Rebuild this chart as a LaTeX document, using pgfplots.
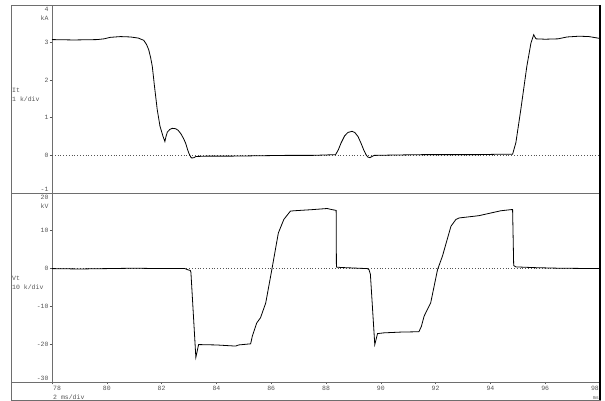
\documentclass[border=0pt]{standalone}
\usepackage{pgfplots}
\pgfplotsset{compat=1.18}
\usepackage{fontspec}
\setmainfont{Liberation Mono}
\definecolor{frm}{RGB}{110,110,110}
\definecolor{txt}{RGB}{85,85,85}
\begin{document}
\begin{tikzpicture}
\path[use as bounding box] (0pt,0pt) rectangle (605pt,401pt);
\pgfplotsset{
  every axis/.append style={
    scale only axis, width=548pt, anchor=south west,
    xmin=78, xmax=98,
    axis line style={frm, line width=0.9pt},
    tick style={txt, line width=0.6pt},
    major tick length=2.5pt, tick align=outside,
    ytick pos=left,
    tick label style={font=\fontsize{6.5}{7}\selectfont, text=txt},
    yticklabel style={inner sep=0.8pt},
    xticklabel style={inner sep=1pt},
    /pgf/number format/assume math mode=true,
    clip=false,
  }
}
% Upper panel: It
\begin{axis}[at={(52pt,208pt)}, height=188pt,
  ymin=-1, ymax=4, ytick={-1,0,1,2,3,4}, yticklabels={,0,1,2,3,},
  xtick=\empty]
\addplot[txt, dotted, line width=0.8pt] coordinates {(78,0) (98,0)};
\addplot[black, line width=0.8pt] coordinates {
(78.00,3.08) (78.8,3.07) (79.65,3.08) (79.9,3.10) (80.13,3.14) (80.5,3.16)
(80.86,3.15) (81.15,3.12) (81.35,3.06) (81.45,2.95) (81.53,2.81) (81.60,2.60)
(81.66,2.37) (81.74,1.84) (81.84,1.22) (81.94,0.78) (82.05,0.51) (82.12,0.37)
(82.16,0.50) (82.21,0.62) (82.30,0.69) (82.39,0.72) (82.51,0.71) (82.60,0.67)
(82.70,0.58) (82.80,0.45) (82.88,0.32) (82.95,0.15) (83.00,0.05) (83.06,-0.04)
(83.10,-0.07) (83.18,-0.06) (83.25,-0.03) (83.6,-0.02) (84.5,-0.02) (85.5,-0.01)
(86.5,0.00) (87.5,0.00) (88.35,0.02) (88.45,0.15) (88.55,0.33) (88.68,0.52)
(88.80,0.61) (88.95,0.64) (89.05,0.61) (89.17,0.50) (89.28,0.32) (89.38,0.14)
(89.46,0.02) (89.52,-0.04) (89.60,-0.06) (89.68,-0.03) (89.76,0.00) (90.5,0.01)
(91.5,0.02) (92.5,0.02) (93.5,0.02) (94.3,0.03) (94.81,0.03) (94.93,0.34)
(95.11,1.22) (95.33,2.37) (95.48,2.99) (95.58,3.21) (95.66,3.10) (96.0,3.09)
(96.47,3.10) (96.8,3.15) (97.24,3.17) (97.6,3.16) (98.0,3.11)};
\node[anchor=north east, inner sep=0.8pt, text=txt, font=\fontsize{6.5}{9}\selectfont, align=right]
  at ([xshift=-2.5pt,yshift=-1pt]axis cs:78,4) {4\\kA};
\node[anchor=south east, inner sep=0.8pt, text=txt, font=\fontsize{6.5}{7}\selectfont]
  at ([xshift=-2.5pt]axis cs:78,-1) {-1};
\end{axis}
% Lower panel: Vt
\begin{axis}[at={(52pt,19pt)}, height=189pt,
  ymin=-30, ymax=20, ytick={-30,-20,-10,0,10,20}, yticklabels={,-20,-10,0,10,},
  xtick={78,80,...,98}, xticklabels={,80,82,84,86,88,90,92,94,96,},
  xtick pos=bottom]
\addplot[txt, dotted, line width=0.8pt] coordinates {(78,0) (98,0)};
\addplot[black, line width=0.8pt] coordinates {
(78.00,0.0) (79.0,-0.1) (80.0,0.0) (81.0,0.1) (82.0,0.0) (82.85,0.0)
(82.95,-0.3) (83.05,-0.5) (83.07,-1.0) (83.25,-23.5) (83.35,-20.1) (84.0,-20.2)
(84.70,-20.5) (84.81,-20.2) (85.25,-19.9) (85.31,-17.9) (85.47,-14.4) (85.61,-13.0)
(85.80,-9.1) (86.03,0.0) (86.26,9.4) (86.46,13.0) (86.70,15.2) (86.83,15.3)
(87.5,15.6) (88.04,15.9) (88.22,15.6) (88.37,15.4) (88.38,0.4) (88.53,0.3)
(89.51,0.0) (89.57,-0.3) (89.62,-1.5) (89.78,-20.1) (89.88,-17.2) (90.11,-17.0)
(90.72,-16.8) (91.39,-16.7) (91.48,-15.3) (91.58,-12.6) (91.70,-10.8) (91.82,-9.1)
(92.07,-0.3) (92.25,3.3) (92.56,11.2) (92.74,13.0) (92.86,13.4) (93.58,14.0)
(94.01,14.7) (94.38,15.3) (94.75,15.6) (94.81,15.6) (94.85,0.8) (94.93,0.45)
(95.60,0.26) (96.5,0.1) (98.0,0.0)};
\node[anchor=north east, inner sep=0.8pt, text=txt, font=\fontsize{6.5}{9.5}\selectfont, align=right]
  at ([xshift=-2.5pt,yshift=-1pt]axis cs:78,20) {20\\kV};
\node[anchor=south east, inner sep=0.8pt, text=txt, font=\fontsize{6.5}{7}\selectfont]
  at ([xshift=-2.5pt]axis cs:78,-30) {-30};
\node[anchor=north west, inner sep=1pt, text=txt, font=\fontsize{6.5}{9}\selectfont, align=left]
  at ([yshift=-2.5pt]axis cs:78,-30) {78\\2 ms/div};
\node[anchor=north east, inner sep=1pt, text=txt, font=\fontsize{6.5}{9}\selectfont, align=right]
  at ([yshift=-2.5pt]axis cs:98,-30) {98\\{\fontsize{5}{6}\selectfont ms}};
\end{axis}
% frame
\draw[frm, line width=0.9pt] (11pt,1pt) rectangle (600pt,396pt);
\draw[frm, line width=0.9pt] (11pt,208pt) -- (600pt,208pt);
\draw[frm, line width=0.9pt] (11pt,19pt) -- (600pt,19pt);
\draw[black, line width=1.6pt] (600pt,1pt) -- (600pt,396pt);
% channel labels
\node[anchor=west, align=left, text=txt, font=\fontsize{6.5}{9}\selectfont, inner sep=0pt]
  at (12pt,306pt) {It\\1 k/div};
\node[anchor=west, align=left, text=txt, font=\fontsize{6.5}{9.5}\selectfont, inner sep=0pt]
  at (12pt,118pt) {Vt\\10 k/div};
\end{tikzpicture}
\end{document}
